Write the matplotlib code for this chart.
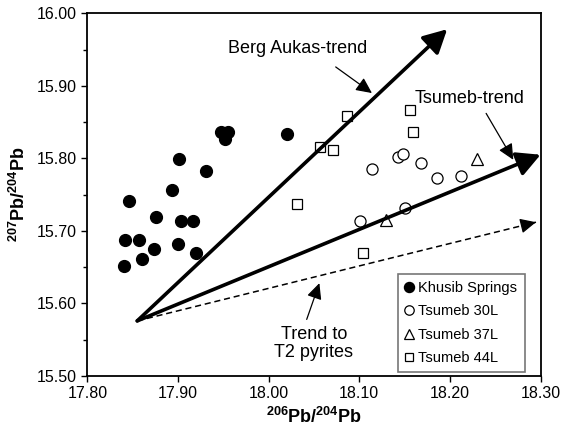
import numpy as np
import matplotlib
matplotlib.use("Agg")
import matplotlib.pyplot as plt
from matplotlib.ticker import MultipleLocator, FormatStrFormatter

plt.rcParams["font.family"] = ["Liberation Sans", "DejaVu Sans"]
plt.rcParams["mathtext.fontset"] = "custom"
plt.rcParams["mathtext.rm"] = "Liberation Sans"
plt.rcParams["mathtext.bf"] = "Liberation Sans:bold"

# ----------------------------
# Data (206Pb/204Pb, 207Pb/204Pb)
# ----------------------------

khusib_x = [17.840, 17.860, 17.841, 17.857, 17.873, 17.846, 17.876, 17.900, 17.903,
            17.917, 17.920, 17.893, 17.901, 17.931, 17.947, 17.955, 17.952, 18.020]
khusib_y = [15.652, 15.661, 15.688, 15.688, 15.675, 15.741, 15.719, 15.682, 15.713,
            15.713, 15.670, 15.757, 15.799, 15.783, 15.837, 15.837, 15.827, 15.834]

ts30_x = [18.114, 18.143, 18.148, 18.168, 18.186, 18.212, 18.150, 18.101]
ts30_y = [15.785, 15.802, 15.806, 15.794, 15.773, 15.776, 15.731, 15.713]

ts37_x = [18.130, 18.230]
ts37_y = [15.715, 15.799]

ts44_x = [18.087, 18.057, 18.071, 18.156, 18.159, 18.031, 18.104]
ts44_y = [15.858, 15.816, 15.811, 15.867, 15.836, 15.737, 15.670]

# trend arrows: common origin and tips
trend_origin = (17.855, 15.576)
berg_tip = (18.197, 15.978)
tsumeb_tip = (18.300, 15.805)
t2_tip = (18.295, 15.712)

# ----------------------------
# Figure
# ----------------------------

fig = plt.figure(figsize=(5.75, 4.36), dpi=100)
ax = fig.add_axes([0.152, 0.1376, 0.788, 0.832])

ax.plot(khusib_x, khusib_y, "o", color="black", ms=8.5, label="Khusib Springs", zorder=3)
ax.plot(ts30_x, ts30_y, "o", mfc="white", mec="black", mew=0.9, ms=8, label="Tsumeb 30L", zorder=3)
ax.plot(ts37_x, ts37_y, "^", mfc="white", mec="black", mew=0.9, ms=8.5, label="Tsumeb 37L", zorder=3)
ax.plot(ts44_x, ts44_y, "s", mfc="white", mec="black", mew=0.9, ms=6.5, label="Tsumeb 44L", zorder=3)

# trend arrows
thick = dict(arrowstyle="-|>,head_length=0.95,head_width=0.5", lw=2.6, color="black",
             shrinkA=0, shrinkB=0, mutation_scale=15)
thin = dict(arrowstyle="-|>,head_length=0.8,head_width=0.38", lw=0.9, color="black",
            shrinkA=0, shrinkB=0, mutation_scale=12)

ax.annotate("", xy=berg_tip, xytext=trend_origin, arrowprops=thick)
ax.annotate("", xy=tsumeb_tip, xytext=trend_origin, arrowprops=thick, annotation_clip=False)

# dashed trend: dashed shaft plus a solid head
ax.plot([trend_origin[0], t2_tip[0]], [trend_origin[1], t2_tip[1]], color="black",
        lw=1.1, ls=(0, (4, 2.5)))
near_tip = (t2_tip[0] - 0.01, t2_tip[1] - 0.01 * (t2_tip[1] - trend_origin[1]) / (t2_tip[0] - trend_origin[0]))
ax.annotate("", xy=t2_tip, xytext=near_tip, arrowprops=thin)

# labels with pointer arrows
ax.text(18.032, 15.951, "Berg Aukas-trend", fontsize=13, ha="center", va="center")
ax.annotate("", xy=(18.114, 15.890), xytext=(18.074, 15.926), arrowprops=thin)

ax.text(18.222, 15.882, "Tsumeb-trend", fontsize=13, ha="center", va="center")
ax.annotate("", xy=(18.270, 15.798), xytext=(18.240, 15.862), arrowprops=thin)

ax.text(18.050, 15.545, "Trend to\nT2 pyrites", fontsize=13, ha="center", va="center",
        linespacing=1.1)
ax.annotate("", xy=(18.056, 15.628), xytext=(18.042, 15.578), arrowprops=thin)

# ----------------------------
# Axes styling
# ----------------------------

ax.set_xlim(17.80, 18.30)
ax.set_ylim(15.50, 16.00)
ax.xaxis.set_major_locator(MultipleLocator(0.1))
ax.yaxis.set_major_locator(MultipleLocator(0.1))
ax.yaxis.set_minor_locator(MultipleLocator(0.05))
ax.xaxis.set_major_formatter(FormatStrFormatter("%.2f"))
ax.yaxis.set_major_formatter(FormatStrFormatter("%.2f"))
ax.tick_params(which="both", direction="out", width=1, colors="black", labelsize=11.5)
ax.tick_params(which="major", length=4)
ax.tick_params(which="minor", length=3)
for s in ax.spines.values():
    s.set_linewidth(1.3)

ax.set_xlabel(r"$\mathbf{^{206}Pb/^{204}Pb}$", fontsize=13, labelpad=4)
ax.set_ylabel(r"$\mathbf{^{207}Pb/^{204}Pb}$", fontsize=13, labelpad=6)

leg = ax.legend(loc="lower left", bbox_to_anchor=(0.686, 0.011, 0.28, 0.27), mode="expand",
                fontsize=10.5, frameon=True, fancybox=False, handlelength=0.6,
                handletextpad=0.3, borderpad=0.45, labelspacing=0.65, borderaxespad=0,
                markerscale=0.85)
leg.get_frame().set_edgecolor("#555555")
leg.get_frame().set_linewidth(1.2)

fig.savefig("out.png", dpi=100)
